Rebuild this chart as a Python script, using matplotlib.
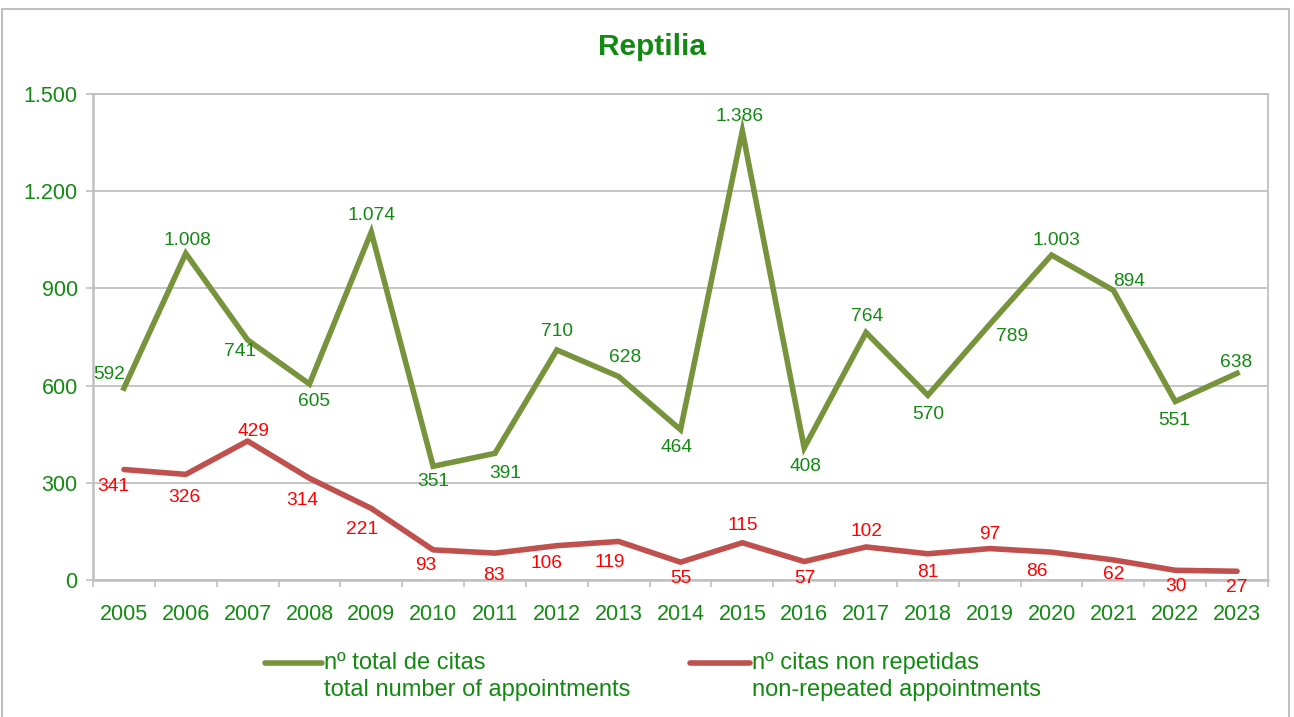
import matplotlib
matplotlib.use("Agg")
import matplotlib.pyplot as plt
from matplotlib.lines import Line2D
from matplotlib.patches import Rectangle

plt.rcParams['font.family'] = ['Liberation Sans', 'DejaVu Sans']

years = ["2005", "2006", "2007", "2008", "2009", "2010", "2011", "2012", "2013", "2014",
         "2015", "2016", "2017", "2018", "2019", "2020", "2021", "2022", "2023"]
total_citas = [592, 1008, 741, 605, 1074, 351, 391, 710, 628, 464,
               1386, 408, 764, 570, 789, 1003, 894, 551, 638]
non_repeated = [341, 326, 429, 314, 221, 93, 83, 106, 119, 55,
                115, 57, 102, 81, 97, 86, 62, 30, 27]
y_ticks = [0, 300, 600, 900, 1200, 1500]
y_tick_labels = ["0", "300", "600", "900", "1.200", "1.500"]
title = "Reptilia"
legend_labels = ["nº total de citas\ntotal number of appointments",
                 "nº citas non repetidas\nnon-repeated appointments"]

# label offsets in pixels (dx, dy) -- layout only
green_off = [(-15, 14), (2, 13), (-8, -12), (5, -18), (0, 17), (0, -15), (10, -20), (0, 18),
             (6, 19), (-4, -18), (-3, 14), (1, -19), (1, 16), (0, -19), (22, -12), (5, 15),
             (16, 9), (-1, -19), (-1, 11)]
red_off = [(-11, -17), (-1, -23), (6, 10), (-7, -22), (-9, -21), (-7, -16), (-1, -22), (-10, -18),
           (-9, -21), (0, -16), (0, 17), (1, -17), (0, 15), (0, -19), (0, 14), (-15, -19),
           (0, -15), (1, -16), (0, -16)]

GREEN_LINE = '#77933C'
RED_LINE = '#C0504D'
GREEN_TXT = '#128A12'
RED_TXT = '#FF0000'
GRID = '#C0C0C0'

W, H = 1294, 717
fig = plt.figure(figsize=(W / 100, H / 100), dpi=100)
fig.patch.set_facecolor('white')

# outer chart border
fig.add_artist(Rectangle((2 / W, -0.05), (1289 - 2) / W, (H - 9) / H + 0.05,
                         transform=fig.transFigure, fill=False, edgecolor='#BFBFBF', lw=1.5))

ax = fig.add_axes([93 / W, (H - 580) / H, (1268 - 93) / W, (580 - 94) / H])
x = list(range(len(years)))

ax.plot(x, total_citas, color=GREEN_LINE, lw=4.0, solid_joinstyle='miter', zorder=3, clip_on=False)
ax.plot(x, non_repeated, color=RED_LINE, lw=4.0, solid_capstyle='round', zorder=3, clip_on=False)

def fmt(v):
    return f"{v:,}".replace(",", ".")

for xi, v, (dx, dy) in zip(x, total_citas, green_off):
    ax.annotate(fmt(v), (xi, v), xytext=(dx, dy), textcoords='offset pixels',
                ha='center', va='center', fontsize=13.8, color=GREEN_TXT, zorder=4)
for xi, v, (dx, dy) in zip(x, non_repeated, red_off):
    ax.annotate(fmt(v), (xi, v), xytext=(dx, dy), textcoords='offset pixels',
                ha='center', va='center', fontsize=13.8, color=RED_TXT, zorder=4)

ax.set_xlim(-0.5, len(years) - 0.5)
ax.set_ylim(0, 1500)
ax.set_yticks(y_ticks)
ax.set_yticklabels(y_tick_labels)
ax.set_xticks(x)
ax.set_xticklabels(years)
ax.set_xticks([i - 0.5 for i in range(len(years) + 1)], minor=True)
ax.tick_params(axis='x', which='major', length=0, pad=17, labelsize=15.5, labelcolor=GREEN_TXT)
ax.tick_params(axis='x', which='minor', length=5, width=1.2, color=GRID, direction='out')
ax.tick_params(axis='y', which='major', length=5, width=1.2, color=GRID, pad=6,
               labelsize=15.5, labelcolor=GREEN_TXT)
ax.yaxis.grid(True, color=GRID, lw=1.3)
ax.set_axisbelow(True)
for s in ax.spines.values():
    s.set_color(GRID)
    s.set_linewidth(1.3)
ax.spines['left'].set_linewidth(1.8)
ax.spines['bottom'].set_linewidth(1.8)

fig.text(652 / W, 1 - 47 / H, title, ha='center', va='center', fontsize=21.5,
         fontweight='bold', color=GREEN_TXT)

# legend (manual)
leg = [(265, 322, GREEN_LINE), (690, 750, RED_LINE)]
for (x0, x1, c), lab in zip(leg, legend_labels):
    fig.add_artist(Line2D([x0 / W, x1 / W], [1 - 663 / H, 1 - 663 / H], transform=fig.transFigure,
                          color=c, lw=4.0, solid_capstyle='round'))
    fig.text((x1 + 2) / W, 1 - 652 / H, lab, ha='left', va='top', fontsize=17,
             color=GREEN_TXT, linespacing=1.3)

fig.savefig("out.png", dpi=100, facecolor='white')
